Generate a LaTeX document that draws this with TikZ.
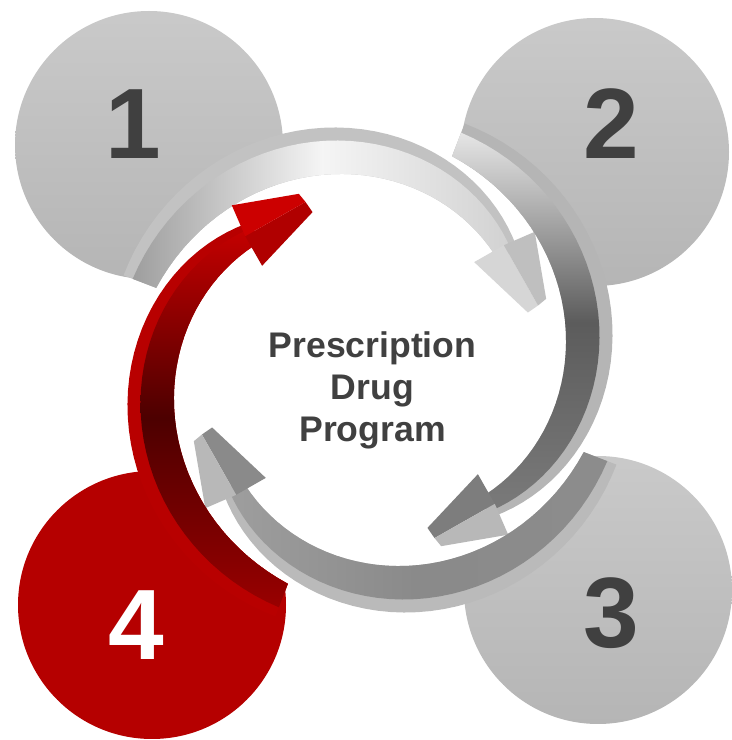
\documentclass[tikz,border=0pt]{standalone}
\usepackage{fontspec}
\setmainfont{Liberation Sans}

\definecolor{numgray}{HTML}{404040}

\tikzset{
  declare function={
    rin(\a)=229-59*(159-\a)/116;
    rout(\a)=264-69*((159-\a)/116)^2;
    rface(\a)=rin(\a)+0.72*(rout(\a)-rin(\a));
  },
  numlabel/.style={font=\bfseries\fontsize{50}{50}\selectfont, text=numgray, inner sep=0pt},
  centerline/.style={font=\bfseries\fontsize{17.8}{21}\selectfont, text=numgray, inner sep=0pt, anchor=base},
  graydisk/.style={top color=black!21, bottom color=black!29},
  reddisk/.style={fill=red!71!black},
  softshadow/.style={fill=black, opacity=0.05},
}

% one bent arrow of the ring: rotation, rim, tail, middle, head, inner facet, outer facet
\newcommand{\ringarrow}[7]{%
  \begin{scope}[shift={(ctr)}, rotate=#1]
    \fill[#2] plot[domain=159:40,samples=40] (\x:{rout(\x)})
      -- plot[domain=40:159,samples=40] (\x:{rin(\x)}) -- cycle;
    \shade[top color=#3, bottom color=#5, middle color=#4, shading angle=90+#1]
      plot[domain=159:40,samples=40] (\x:{rface(\x)})
      -- plot[domain=40:159,samples=40] (\x:{rin(\x)}) -- cycle;
    \fill[#6] (46:150) -- (43:183) -- (21:180) -- (20:168) -- cycle;
    \fill[#7] (40:215) -- (43:183) -- (21:180) -- (22:190) -- cycle;
  \end{scope}}

\begin{document}
\begin{tikzpicture}[x=0.5pt, y=0.5pt]
  \useasboundingbox (0,0) rectangle (732,740);
  \coordinate (ctr) at (370,370);
  \coordinate (d1) at (149,595);
  \coordinate (d2) at (595,588);
  \coordinate (d3) at (598,150);
  \coordinate (d4) at (152,135);

  % soft shadows under the lower discs
  \foreach \s in {2,4,6} {
    \fill[softshadow, yshift=-\s pt] (d3) circle (132);
    \fill[softshadow, yshift=-\s pt] (d4) circle (132);
  }

  % discs
  \shade[graydisk] (d1) circle (134);
  \shade[graydisk] (d2) circle (134);
  \shade[graydisk] (d3) circle (134);
  \fill[reddisk] (d4) circle (134);

  % inside of the ring
  \foreach \r in {0,-90,-180,-270}
    \fill[white, shift={(ctr)}, rotate=\r] (0,0)
      -- plot[domain=159:40,samples=40] (\x:{rin(\x)}) -- cycle;

  % ring arrows
  \ringarrow{0}{black!24}{black!38}{black!4}{black!18}{black!16}{black!25}
  \ringarrow{-90}{black!29}{black!10}{black!64}{black!52}{black!51}{black!28}
  \ringarrow{-180}{black!27}{black!45}{black!46}{black!38}{black!46}{black!28}
  \ringarrow{-270}{red!72!black}{red!60!black}{red!30!black}{red!77!black}{red!69!black}{red!80!black}

  % numbers
  \node[numlabel] (n1) at (133,616) {1};
  \node[numlabel] (n2) at (611,616) {2};
  \node[numlabel] (n3) at (611,127) {3};
  \node[numlabel, text=white] (n4) at (136,115) {4};

  % title
  \node[centerline] (presc) at (372.5,382) {Prescription};
  \node[centerline] (drug) at (372.5,340) {Drug};
  \node[centerline] (prog) at (372.5,298) {Program};
\end{tikzpicture}
\end{document}
